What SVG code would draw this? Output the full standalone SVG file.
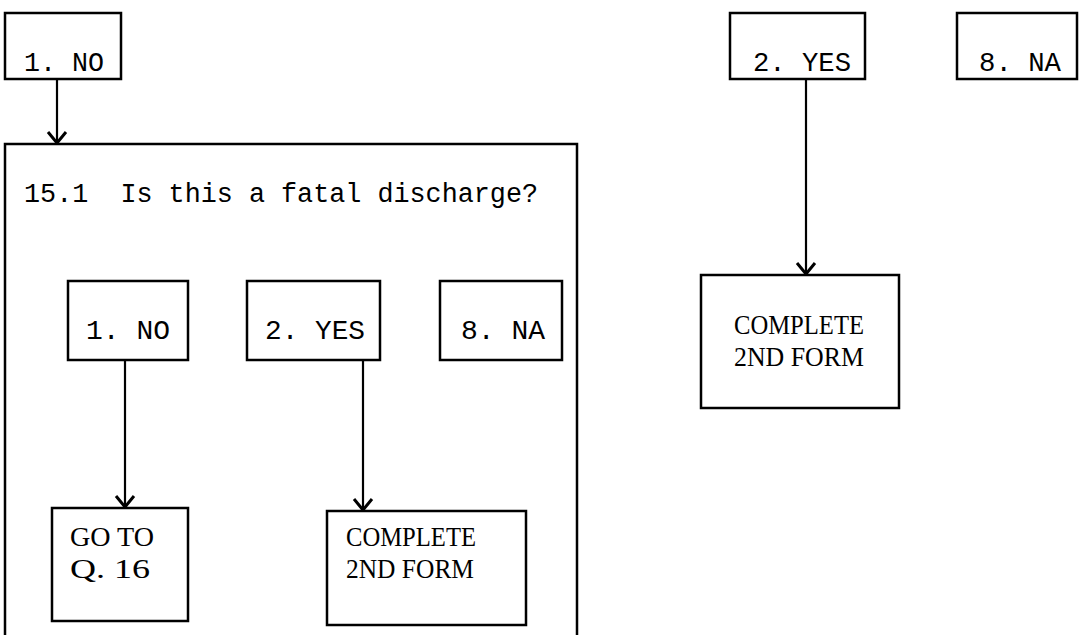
<svg xmlns="http://www.w3.org/2000/svg" width="1079" height="635" viewBox="0 0 1079 635">
<style>
.box{fill:none;stroke:#000;stroke-width:2.5}
.ln{fill:none;stroke:#000;stroke-width:2.2}
.mono{font-family:"Liberation Mono","Courier New",monospace;font-size:27px;fill:#000;white-space:pre}
.ser{font-family:"Liberation Serif","Times New Roman",serif;font-size:27px;fill:#000}
</style>
<defs>
<marker id="ah" viewBox="-13 -11 15 22" refX="0" refY="0" markerWidth="15" markerHeight="22" markerUnits="userSpaceOnUse" orient="auto">
<path d="M-11,-9 L0,0 L-11,9" fill="none" stroke="#000" stroke-width="3"/>
</marker>
</defs>
<rect width="1079" height="635" fill="#fff"/>
<g id="top-no"><rect class="box" x="5" y="13" width="116" height="66"/><text class="mono" x="24" y="71" textLength="80" lengthAdjust="spacingAndGlyphs">1. NO</text></g>
<g id="q151"><path class="box" d="M5,635 L5,144 L577,144 L577,635"/><text class="mono" x="24" y="202" textLength="514" lengthAdjust="spacingAndGlyphs" xml:space="preserve">15.1  Is this a fatal discharge?</text></g>
<g id="in-no"><rect class="box" x="68" y="281" width="120" height="79"/><text class="mono" x="86" y="339" textLength="84" lengthAdjust="spacingAndGlyphs">1. NO</text></g>
<g id="in-yes"><rect class="box" x="247" y="281" width="133" height="79"/><text class="mono" x="265" y="339" textLength="100" lengthAdjust="spacingAndGlyphs">2. YES</text></g>
<g id="in-na"><rect class="box" x="440" y="281" width="122" height="79"/><text class="mono" x="461" y="339" textLength="84" lengthAdjust="spacingAndGlyphs">8. NA</text></g>
<g id="goto"><rect class="box" x="52" y="508" width="136" height="113"/><text class="ser" x="70" y="546" textLength="84" lengthAdjust="spacingAndGlyphs">GO TO</text><text class="ser" x="70" y="578" textLength="80" lengthAdjust="spacingAndGlyphs">Q. 16</text></g>
<g id="in-complete"><rect class="box" x="327" y="511" width="199" height="114"/><text class="ser" x="346" y="546" textLength="130" lengthAdjust="spacingAndGlyphs">COMPLETE</text><text class="ser" x="346" y="578" textLength="128" lengthAdjust="spacingAndGlyphs">2ND FORM</text></g>
<g id="top-yes"><rect class="box" x="730" y="13" width="135" height="66"/><text class="mono" x="753" y="71" textLength="98" lengthAdjust="spacingAndGlyphs">2. YES</text></g>
<g id="top-na"><rect class="box" x="957" y="13" width="120" height="66"/><text class="mono" x="979" y="71" textLength="82" lengthAdjust="spacingAndGlyphs">8. NA</text></g>
<g id="top-complete"><rect class="box" x="701" y="275" width="198" height="133"/><text class="ser" x="734" y="334" textLength="130" lengthAdjust="spacingAndGlyphs">COMPLETE</text><text class="ser" x="734" y="366" textLength="130" lengthAdjust="spacingAndGlyphs">2ND FORM</text></g>
<g id="connectors">
<line class="ln" x1="57" y1="79" x2="57" y2="143" marker-end="url(#ah)"/>
<line class="ln" x1="125" y1="360" x2="125" y2="507" marker-end="url(#ah)"/>
<line class="ln" x1="363" y1="360" x2="363" y2="510" marker-end="url(#ah)"/>
<line class="ln" x1="806" y1="79" x2="806" y2="274" marker-end="url(#ah)"/>
</g>
</svg>
